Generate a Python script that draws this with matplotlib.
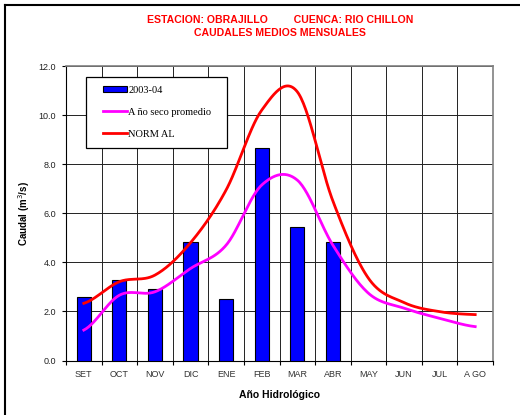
#!/usr/bin/env python3

import numpy as np
import matplotlib
matplotlib.use("Agg")
import matplotlib.pyplot as plt
from matplotlib.lines import Line2D
from matplotlib.patches import Rectangle

MESES = ["SET", "OCT", "NOV", "DIC", "ENE", "FEB", "MAR", "ABR", "MAY", "JUN", "JUL", "A GO"]
# caudales 2003-04 (solo hasta abril)
Q_2003_04 = [2.57, 3.28, 2.91, 4.81, 2.49, 8.64, 5.45, 4.81]
Q_SECO = [1.24, 2.66, 2.80, 3.75, 4.70, 7.15, 7.35, 4.70, 2.74, 2.13, 1.72, 1.38]
Q_NORMAL = [2.33, 3.21, 3.48, 4.80, 6.95, 10.2, 10.95, 6.5, 3.35, 2.36, 1.99, 1.87]

plt.rcParams['font.family'] = ['Liberation Sans', 'DejaVu Sans']


def smooth(x, y, n=30):
    # curva suavizada tipo Excel (Catmull-Rom)
    x = np.asarray(x, float)
    y = np.asarray(y, float)
    px = np.concatenate([[2*x[0]-x[1]], x, [2*x[-1]-x[-2]]])
    py = np.concatenate([[y[0]], y, [y[-1]]])
    xs, ys = [], []
    t = np.linspace(0, 1, n)
    for i in range(1, len(px)-2):
        p0, p1, p2, p3 = px[i-1:i+3]
        q0, q1, q2, q3 = py[i-1:i+3]
        c1x, c1y = p1 + (p2-p0)/6, q1 + (q2-q0)/6
        c2x, c2y = p2 - (p3-p1)/6, q2 - (q3-q1)/6
        bx = (1-t)**3*p1 + 3*(1-t)**2*t*c1x + 3*(1-t)*t**2*c2x + t**3*p2
        by = (1-t)**3*q1 + 3*(1-t)**2*t*c1y + 3*(1-t)*t**2*c2y + t**3*q2
        xs.append(bx)
        ys.append(by)
    return np.concatenate(xs), np.concatenate(ys)


fig = plt.figure(figsize=(5.2, 4.15), dpi=100)
ax = fig.add_axes([66/520, 1-360.5/415, (493-66)/520, (360.5-66)/415])

x = np.arange(len(MESES))
barras = ax.bar(x[:len(Q_2003_04)], Q_2003_04, width=0.4, color="#0000FF",
                edgecolor="black", linewidth=0.8, label="2003-04", zorder=3)

sx, sy = smooth(x, Q_SECO)
l_seco, = ax.plot(sx, sy, color="#FF00FF", lw=2, label="A ño seco promedio", zorder=4)
sx, sy = smooth(x, Q_NORMAL)
l_norm, = ax.plot(sx, sy, color="#FF0000", lw=2, label="NORM AL", zorder=5)

ax.set_xlim(-0.5, len(MESES)-0.5)
ax.set_ylim(0, 12)
ax.set_yticks(np.arange(0, 12.1, 2))
ax.set_yticklabels(["%.1f" % v for v in np.arange(0, 12.1, 2)], fontsize=6.5, color="#222222")
ax.set_xticks(np.arange(-0.5, len(MESES)), minor=False)
ax.set_xticklabels([])
ax.set_xticks(x, minor=True)
ax.set_xticklabels(MESES, minor=True, fontsize=6.5, color="#333333")
ax.tick_params(axis="x", which="major", direction="out", length=3, width=0.8)
ax.tick_params(axis="x", which="minor", length=0, pad=7)
ax.tick_params(axis="y", direction="out", length=3, width=0.8, pad=4)
ax.grid(True, which="major", color="#222222", lw=0.7, zorder=0)
for s in ["top", "right"]:
    ax.spines[s].set_color("#808080")
    ax.spines[s].set_linewidth(1.2)
for s in ["left", "bottom"]:
    ax.spines[s].set_color("black")
    ax.spines[s].set_linewidth(0.8)

ax.set_ylabel("Caudal (m$^3$/s)", fontsize=7, fontweight="bold", labelpad=5)
ax.set_xlabel("Año Hidrológico", fontsize=7.5, fontweight="bold", labelpad=8)

# caja de la leyenda dibujada aparte
caja = Rectangle((86/520, 1-148/415), 141/520, 71.3/415, transform=fig.transFigure,
                 facecolor="white", edgecolor="black", lw=0.9, zorder=9)
ax.add_artist(caja)
caja.set_clip_on(False)

leg = ax.legend([barras, l_seco, l_norm], ["2003-04", "A ño seco promedio", "NORM AL"],
                loc="upper left", bbox_to_anchor=(94/520, 1-76.7/415),
                bbox_transform=fig.transFigure, frameon=False,
                prop={"family": "Liberation Serif", "size": 7.5},
                handlelength=2.3, handleheight=0.6, handletextpad=0.15, labelspacing=1.25,
                borderpad=0.85, borderaxespad=0)
leg.set_zorder(10)

fig.text(280/520, 1-20/415, "ESTACION: OBRAJILLO         CUENCA: RIO CHILLON",
         ha="center", va="center", color="#FF0000", fontsize=7.6, fontweight="bold")
fig.text(280/520, 1-33/415, "CAUDALES MEDIOS MENSUALES",
         ha="center", va="center", color="#FF0000", fontsize=7.6, fontweight="bold")

# marco exterior
fig.add_artist(Line2D([5/520, 1], [1-5/415, 1-5/415], color="black", lw=1.5))
fig.add_artist(Line2D([5/520, 5/520], [0, 1-5/415], color="black", lw=1.5))

fig.savefig("out.png", dpi=100)
